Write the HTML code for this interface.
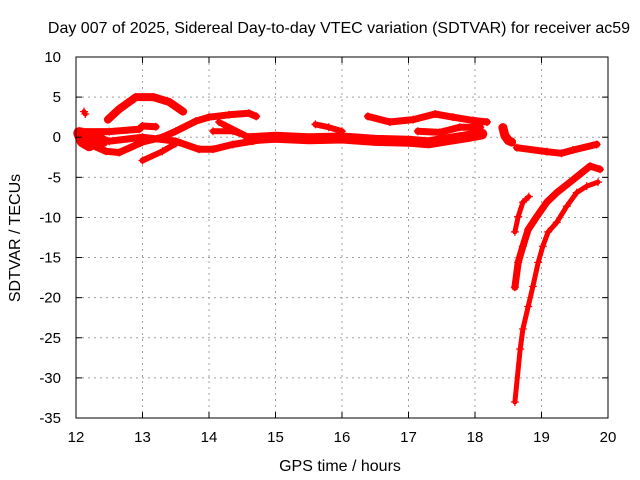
<!DOCTYPE html>
<html><head><meta charset="utf-8"><style>
body{margin:0;background:#fff;}
svg{display:block;font-family:"Liberation Sans",sans-serif;}
</style></head><body>
<svg id="chart" width="640" height="480">
<text x="339" y="33" font-size="16" text-anchor="middle">Day 007 of 2025, Sidereal Day-to-day VTEC variation (SDTVAR) for receiver ac59</text>
<text x="340" y="471" font-size="16" text-anchor="middle">GPS time / hours</text>
<text transform="translate(20,238) rotate(-90)" font-size="16" text-anchor="middle">SDTVAR / TECUs</text>
<g id="grid"></g>
<g id="marks"></g>
<rect x="76" y="57" width="532" height="361" fill="none" stroke="#000" stroke-width="1"/>
<g id="ticks"></g>
</svg>
<script>
const xTicks=[12,13,14,15,16,17,18,19,20];
const yTicks=[10,5,0,-5,-10,-15,-20,-25,-30,-35];
const isolated=[[12.12,3.2],[12.14,2.9]];
const arcA=[[12.48,2.2],[12.65,3.5],[12.9,5.0],[13.16,5.0],[13.4,4.4],[13.61,3.2]];
const trackB=[[12.1,0.7],[12.5,0.7],[12.95,1.0],[13.0,1.4],[13.2,1.3]];
const leftBlob=[[12.05,0.5],[12.1,-0.5],[12.2,-1.0],[12.3,0.0],[12.4,-0.5]];
const trackC=[[12.1,-0.5],[12.45,-1.75],[12.65,-1.9],[13.0,-0.6],[13.3,0],[13.5,0.75],[13.8,2.0],[14.0,2.5],[14.3,2.8],[14.6,3.0],[14.71,2.6]];
const trackC2=[[12.05,0.4],[12.5,-0.5],[13.0,0],[13.5,-0.5],[13.85,-1.5],[14.06,-1.5],[14.36,-0.9],[14.66,-0.5],[15.0,0]];
const trackD=[[13.0,-2.9],[13.3,-1.75],[13.5,-0.8]];
const trackE=[[14.06,0.75],[14.36,0.75],[14.6,0],[14.15,1.9],[14.35,0.9]];
const mainBand=[[14.6,-0.2],[15.0,0],[15.5,-0.2],[16.0,-0.1],[16.5,-0.4],[17.0,-0.5],[17.3,-0.7],[17.6,-0.3],[17.9,0.1],[18.1,0.4]];
const trackH=[[15.6,1.6],[15.8,1.25],[16.0,0.75]];
const trackG=[[16.39,2.6],[16.72,1.9],[17.07,2.2],[17.4,2.9],[17.67,2.5],[17.97,2.1],[18.18,1.9]];
const trackI=[[17.14,0.75],[17.47,0.6],[17.77,1.25],[18.08,1.25]];
const trackJ=[[18.42,1.2],[18.45,0.2],[18.5,-0.4],[18.55,-0.6]];
const trackK=[[18.63,-1.3],[19.08,-1.8],[19.3,-2.0],[19.47,-1.6],[19.83,-0.9]];
const trackL=[[18.60,-33],[18.68,-26.4],[18.72,-23.9],[18.80,-21.1],[18.87,-18.6],[18.95,-15.6],[19.02,-13.6],[19.10,-11.8],[19.23,-10.6],[19.38,-8.6],[19.53,-6.9],[19.68,-6.1],[19.85,-5.6]];
const trackM=[[18.60,-18.7],[18.65,-15.6],[18.72,-13.6],[18.80,-11.5],[18.93,-9.9],[19.08,-8.1],[19.23,-6.9],[19.43,-5.6],[19.58,-4.6],[19.73,-3.6],[19.88,-4.0]];
const trackN=[[18.60,-11.8],[18.65,-9.9],[18.72,-8.1],[18.81,-7.4]];

const NS="http://www.w3.org/2000/svg";
const X0=76,X1=608,Y0=418,Y1=57;
function sx(h){return X0+(h-12)/(20-12)*(X1-X0);}
function sy(v){return Y0-(v+35)/(10+35)*(Y0-Y1);}
const grid=document.getElementById('grid'),ticks=document.getElementById('ticks'),marks=document.getElementById('marks');
function mk(tag,attrs,parent){const e=document.createElementNS(NS,tag);for(const k in attrs)e.setAttribute(k,attrs[k]);parent.appendChild(e);return e;}
xTicks.forEach(t=>{
  const x=sx(t);
  if(t>12&&t<20){const g=mk('line',{x1:x,x2:x,y1:Y1,y2:Y0,stroke:'#a0a0a0','stroke-dasharray':'2,4'},grid);
  
  }
  mk('line',{x1:x,x2:x,y1:Y0,y2:Y0-6,stroke:'#000'},ticks);
  mk('line',{x1:x,x2:x,y1:Y1,y2:Y1+6,stroke:'#000'},ticks);
  const l=mk('text',{x:x,y:Y0+24,'font-size':15,'text-anchor':'middle'},ticks);
  l.textContent=t;
  
  
});
yTicks.forEach(t=>{
  const y=sy(t);
  if(t<10&&t>-35){const g=mk('line',{x1:X0,x2:X1,y1:y,y2:y,stroke:'#a0a0a0','stroke-dasharray':'2,4'},grid);
  
  }
  mk('line',{x1:X0,x2:X0+6,y1:y,y2:y,stroke:'#000'},ticks);
  mk('line',{x1:X1,x2:X1-6,y1:y,y2:y,stroke:'#000'},ticks);
  const l=mk('text',{x:X0-15,y:y+5,'font-size':15,'text-anchor':'end'},ticks);
  l.textContent=t;
  
  
});
const series=[[isolated,5,'isolated'],[arcA,8,'arc-a'],[trackB,7,'track-b'],[leftBlob,12,'left-blob'],[trackC,7,'track-c'],[trackC2,7,'track-c2'],[trackD,6,'track-d'],[trackE,6,'track-e'],[mainBand,11,'main-band'],[trackH,6,'track-h'],[trackG,7,'track-g'],[trackI,7,'track-i'],[trackJ,9,'track-j'],[trackK,7,'track-k'],[trackL,5,'track-l'],[trackM,7,'track-m'],[trackN,5,'track-n']];
series.forEach(([pts,w,name])=>{
  const d=pts.map((p,i)=>(i?'L':'M')+sx(p[0]).toFixed(1)+','+sy(p[1]).toFixed(1)).join(' ');
  const path=mk('path',{d:d,fill:'none',stroke:'#f00','stroke-width':w,'stroke-linejoin':'round','stroke-linecap':'round'},marks);
  
  
  pts.forEach(p=>{
    const x=sx(p[0]),y=sy(p[1]);
    const m=mk('path',{d:`M${x-4},${y}H${x+4}M${x},${y-4}V${y+4}`,stroke:'#f00','stroke-width':1.2},marks);
    
    
  });
});
</script>
</body></html>
